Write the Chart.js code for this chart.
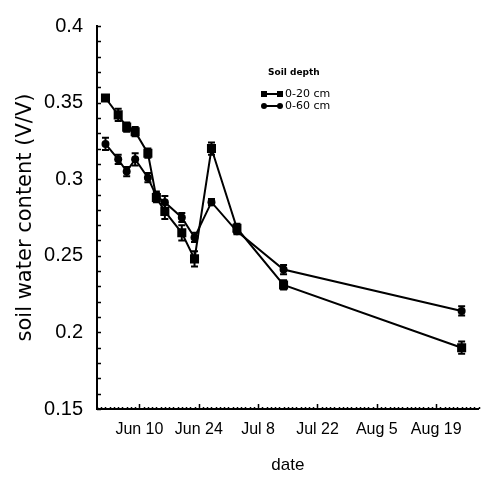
<!DOCTYPE html>
<html>
<head>
<meta charset="utf-8">
<script src="https://cdn.jsdelivr.net/npm/chart.js@4"></script>
<style>
  body { margin: 0; background: #fff; }
  canvas { display: block; }
</style>
</head>
<body>
<canvas id="myChart" width="485" height="477"></canvas>
<script>
// day of year (2001), sampling dates
const days = [153, 156, 158, 160, 163, 165, 167, 171, 174, 178, 184, 195, 237];
// soil water content, 0-20 cm
const depth20 = [0.353, 0.342, 0.334, 0.331, 0.317, 0.288, 0.279, 0.265, 0.248, 0.320, 0.268, 0.231, 0.190];
const depth20Err = [0.002, 0.004, 0.003, 0.003, 0.003, 0.003, 0.005, 0.005, 0.005, 0.004, 0.003, 0.003, 0.004];
// soil water content, 0-60 cm
const depth60 = [0.323, 0.313, 0.305, 0.313, 0.301, 0.289, 0.285, 0.275, 0.262, 0.285, 0.266, 0.241, 0.214];
const depth60Err = [0.004, 0.003, 0.003, 0.004, 0.003, 0.003, 0.004, 0.003, 0.003, 0.002, 0.002, 0.003, 0.003];

const tickDays = [161, 175, 189, 203, 217, 231];
const tickLabels = ["Jun 10", "Jun 24", "Jul 8", "Jul 22", "Aug 5", "Aug 19"];
const seriesNames = ["0-20 cm", "0-60 cm"];

const toPoints = (vals) => vals.map((v, i) => ({ x: days[i], y: v }));

const errorBars = {
  id: "errorBars",
  afterDatasetsDraw(chart) {
    const ctx = chart.ctx;
    const y = chart.scales.y;
    const errs = [depth20Err, depth60Err];
    chart.data.datasets.forEach((ds, di) => {
      const meta = chart.getDatasetMeta(di);
      meta.data.forEach((pt, i) => {
        const v = ds.data[i].y;
        const top = y.getPixelForValue(v + errs[di][i]);
        const bot = y.getPixelForValue(v - errs[di][i]);
        ctx.save();
        ctx.strokeStyle = "#000";
        ctx.lineWidth = 2;
        ctx.beginPath();
        ctx.moveTo(pt.x, top);
        ctx.lineTo(pt.x, bot);
        ctx.moveTo(pt.x - 3.5, top);
        ctx.lineTo(pt.x + 3.5, top);
        ctx.moveTo(pt.x - 3.5, bot);
        ctx.lineTo(pt.x + 3.5, bot);
        ctx.stroke();
        ctx.restore();
      });
    });
  },
};

const axisTicks = {
  id: "axisTicks",
  afterDraw(chart) {
    const ctx = chart.ctx;
    const { x, y } = chart.scales;
    const area = chart.chartArea;
    ctx.save();
    ctx.strokeStyle = "#000";
    ctx.lineWidth = 1.5;
    ctx.beginPath();
    for (let v = 15; v <= 40; v++) {
      const py = Math.round(y.getPixelForValue(v / 100)) + 0.5;
      ctx.moveTo(area.left, py);
      ctx.lineTo(area.left + 4, py);
    }
    for (let d = x.min; d <= x.max; d++) {
      const px = Math.round(x.getPixelForValue(d)) + 0.5;
      const len = tickDays.includes(d) ? 5 : 2;
      ctx.moveTo(px, area.bottom);
      ctx.lineTo(px, area.bottom - len);
    }
    ctx.stroke();

    // legend
    ctx.fillStyle = "#000";
    ctx.textBaseline = "middle";
    ctx.font = "bold 9px 'DejaVu Sans'";
    ctx.fillText("Soil depth", 268, 73);
    ctx.font = "11px 'DejaVu Sans'";
    const rows = [94, 106];
    rows.forEach((ry, i) => {
      ctx.lineWidth = 2;
      ctx.beginPath();
      ctx.moveTo(264, ry);
      ctx.lineTo(280, ry);
      ctx.stroke();
      [264, 280].forEach((mx) => {
        ctx.beginPath();
        if (i === 0) ctx.rect(mx - 3, ry - 3, 6, 6);
        else ctx.arc(mx, ry, 3, 0, Math.PI * 2);
        ctx.fill();
      });
      ctx.fillText(seriesNames[i], 285, ry);
    });
    ctx.restore();
  },
};

new Chart("myChart", {
  type: "line",
  data: {
    datasets: [
      {
        label: seriesNames[0],
        data: toPoints(depth20),
        borderColor: "#000",
        backgroundColor: "#000",
        borderWidth: 2,
        pointStyle: "rect",
        pointRadius: 6.4,
        pointBorderWidth: 0,
      },
      {
        label: seriesNames[1],
        data: toPoints(depth60),
        borderColor: "#000",
        backgroundColor: "#000",
        borderWidth: 2,
        pointStyle: "circle",
        pointRadius: 4,
        pointBorderWidth: 0,
      },
    ],
  },
  options: {
    responsive: false,
    animation: false,
    devicePixelRatio: 1,
    layout: { padding: { top: 21, right: 0, left: 0, bottom: 0 } },
    plugins: { legend: { display: false }, tooltip: { enabled: false } },
    scales: {
      x: {
        type: "linear",
        min: 151,
        max: 241,
        grid: { display: false, drawTicks: false },
        border: { color: "#000", width: 2 },
        afterBuildTicks: (s) => {
          s.ticks = tickDays.map((v) => ({ value: v }));
        },
        afterFit: (s) => {
          s.height = 68;
        },
        ticks: {
          color: "#000",
          font: { family: "'Liberation Sans'", size: 16 },
          padding: 11,
          maxRotation: 0,
          autoSkip: false,
          callback: (v) => tickLabels[tickDays.indexOf(v)],
        },
        title: {
          display: true,
          text: "date",
          color: "#000",
          font: { family: "'Liberation Sans'", size: 17 },
          padding: { top: 0, bottom: 1 },
        },
      },
      y: {
        min: 0.15,
        max: 0.4,
        grid: { display: false, drawTicks: false },
        border: { color: "#000", width: 2 },
        afterFit: (s) => {
          s.width = 97;
        },
        ticks: {
          stepSize: 0.05,
          color: "#000",
          font: { family: "'Liberation Sans'", size: 20 },
          padding: 14,
          callback: (v) => String(+v.toFixed(2)),
        },
        title: {
          display: true,
          text: "soil water content (V/V)",
          color: "#000",
          font: { family: "'DejaVu Sans'", size: 21 },
          padding: { top: 13, bottom: 0 },
        },
      },
    },
  },
  plugins: [errorBars, axisTicks],
});
</script>
</body>
</html>
